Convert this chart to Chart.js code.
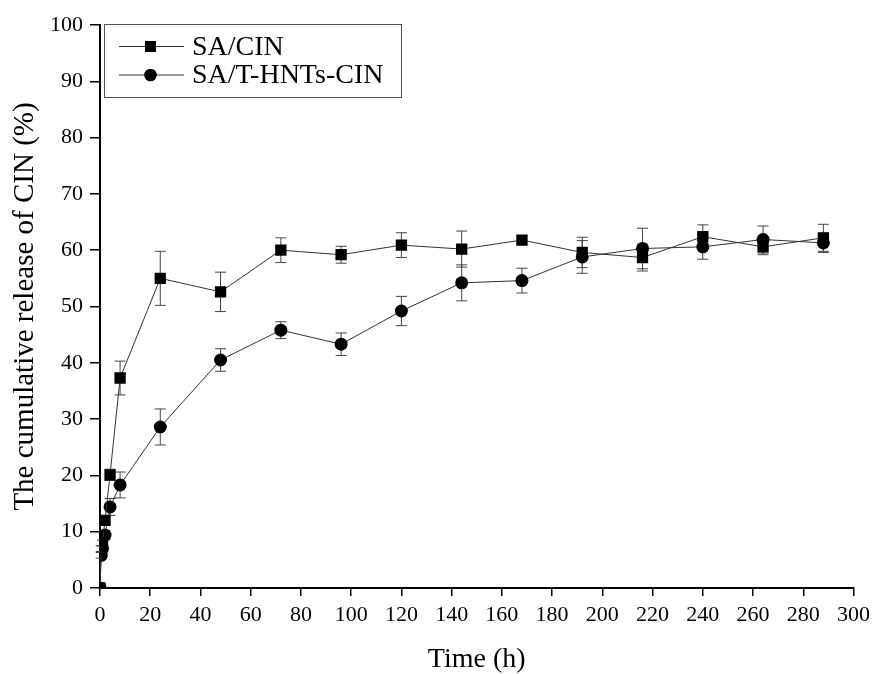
<!DOCTYPE html>
<html>
<head>
<meta charset="utf-8">
<script src="https://cdn.jsdelivr.net/npm/chart.js@4/dist/chart.umd.min.js"></script>
<style>
html,body{margin:0;padding:0;background:#fff;}
#wrap{width:876px;height:674px;position:relative;}
</style>
</head>
<body>
<div id="wrap"><canvas id="c" width="876" height="674"></canvas></div>
<script>
const times = [0, 0.5, 1, 2, 4, 8, 24, 48, 72, 96, 120, 144, 168, 192, 216, 240, 264, 288];
const saCin = [0, 7.0, 8.0, 12.0, 20.1, 37.3, 55.0, 52.6, 60.0, 59.2, 60.9, 60.2, 61.8, 59.6, 58.7, 62.4, 60.6, 62.2];
const saCinErr = [0, 0.5, 0.5, 0.8, 1.0, 3.0, 4.8, 3.5, 2.2, 1.5, 2.2, 3.2, 0.6, 2.7, 2.4, 2.1, 1.4, 2.4];
const saHnt = [0, 5.8, 7.0, 9.4, 14.4, 18.3, 28.6, 40.5, 45.8, 43.3, 49.2, 54.2, 54.6, 58.8, 60.3, 60.6, 61.9, 61.3];
const saHntErr = [0, 0.5, 0.5, 0.8, 1.5, 2.3, 3.2, 2.0, 1.5, 2.0, 2.6, 3.2, 2.2, 2.9, 3.6, 2.2, 2.4, 1.7];
const seriesNames = ['SA/CIN', 'SA/T-HNTs-CIN'];
const xTitle = 'Time (h)';
const yTitle = 'The cumulative release of CIN (%)';

const FONT = '"Liberation Serif", "Times New Roman", serif';

const errs = [saCinErr, saHntErr];

const errorBars = {
  id: 'errorBars',
  beforeDatasetsDraw(chart) {
    const ctx = chart.ctx;
    const xs = chart.scales.x, ys = chart.scales.y;
    ctx.save();
    ctx.strokeStyle = '#444';
    ctx.lineWidth = 1;
    chart.data.datasets.forEach((ds, di) => {
      ds.data.forEach((p, i) => {
        const e = errs[di][i];
        if (!e) return;
        const x = xs.getPixelForValue(p.x);
        const y1 = ys.getPixelForValue(p.y + e);
        const y2 = ys.getPixelForValue(p.y - e);
        ctx.beginPath();
        ctx.moveTo(x, y1); ctx.lineTo(x, y2);
        ctx.moveTo(x - 5.5, y1); ctx.lineTo(x + 5.5, y1);
        ctx.moveTo(x - 5.5, y2); ctx.lineTo(x + 5.5, y2);
        ctx.stroke();
      });
    });
    ctx.restore();
  }
};

const boxLegend = {
  id: 'boxLegend',
  afterDraw(chart) {
    const ctx = chart.ctx;
    ctx.save();
    ctx.strokeStyle = '#555';
    ctx.lineWidth = 1;
    ctx.strokeRect(104.5, 24.5, 297, 73);
    const rows = [46.5, 75];
    chart.data.datasets.forEach((ds, i) => {
      const y = rows[i];
      ctx.strokeStyle = '#333';
      ctx.lineWidth = 1;
      ctx.beginPath(); ctx.moveTo(119, y); ctx.lineTo(184, y); ctx.stroke();
      ctx.fillStyle = '#000';
      if (i === 0) {
        ctx.fillRect(145, y - 5.5, 11, 11);
      } else {
        ctx.beginPath(); ctx.arc(150.5, y, 6.3, 0, Math.PI * 2); ctx.fill();
      }
      ctx.font = '28px ' + FONT;
      ctx.textBaseline = 'middle';
      ctx.textAlign = 'left';
      ctx.fillText(ds.label, 192, y + 1);
    });
    ctx.restore();
  }
};

new Chart(document.getElementById('c'), {
  type: 'line',
  data: {
    datasets: [
      {
        label: seriesNames[0],
        data: times.map((t, i) => ({x: t, y: saCin[i]})),
        borderColor: '#333', borderWidth: 1,
        pointStyle: 'rect', pointRadius: 8, pointBackgroundColor: '#000', pointBorderColor: '#000', pointBorderWidth: 0,
        tension: 0
      },
      {
        label: seriesNames[1],
        data: times.map((t, i) => ({x: t, y: saHnt[i]})),
        borderColor: '#333', borderWidth: 1,
        pointStyle: 'circle', pointRadius: 6.5, pointBackgroundColor: '#000', pointBorderColor: '#000', pointBorderWidth: 0,
        tension: 0
      }
    ]
  },
  options: {
    responsive: false,
    animation: false,
    events: [],
    layout: { padding: { top: 25, right: 20, left: 0, bottom: 0 } },
    plugins: { legend: { display: false }, tooltip: { enabled: false } },
    scales: {
      x: {
        type: 'linear', min: 0, max: 300,
        afterFit(s) { s.height = 86; },
        ticks: { stepSize: 20, color: '#000', font: { family: FONT, size: 22 }, padding: 6, maxRotation: 0 },
        grid: { drawOnChartArea: false, drawTicks: true, tickLength: 8, color: '#000', lineWidth: 1.5 },
        border: { display: true, color: '#000', width: 2 },
        title: { display: true, text: xTitle, color: '#000', font: { family: FONT, size: 28, lineHeight: 1 }, padding: { top: 0, bottom: 0 } }
      },
      y: {
        type: 'linear', min: 0, max: 100,
        afterFit(s) { s.width = 100; },
        ticks: { stepSize: 10, color: '#000', font: { family: FONT, size: 22 }, padding: 7 },
        grid: { drawOnChartArea: false, drawTicks: true, tickLength: 10, color: '#000', lineWidth: 1.5 },
        border: { display: true, color: '#000', width: 2 },
        title: { display: true, text: yTitle, color: '#000', font: { family: FONT, size: 29, lineHeight: 1 }, padding: { top: 11, bottom: 0 } }
      }
    }
  },
  plugins: [errorBars, boxLegend]
});
</script>
</body>
</html>
